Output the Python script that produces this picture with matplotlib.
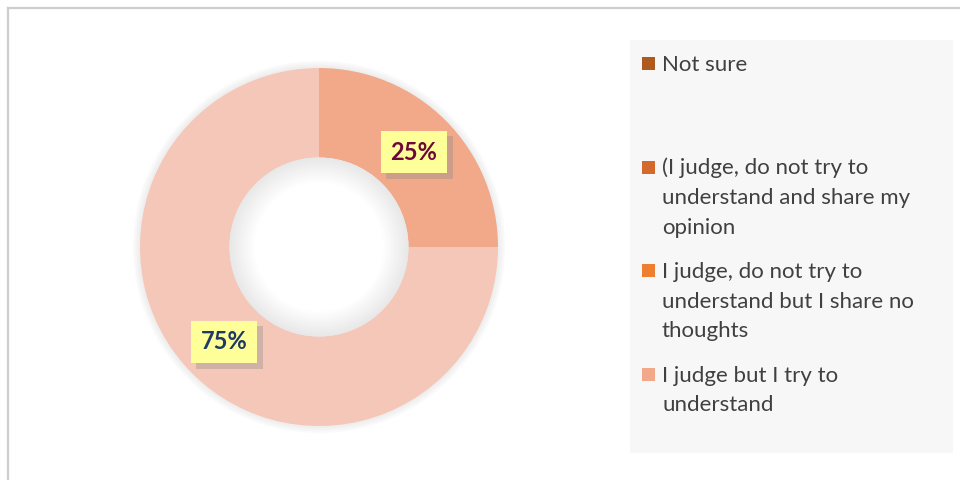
import numpy as np
import matplotlib.pyplot as plt
import matplotlib.patheffects as pe
from matplotlib.lines import Line2D
from matplotlib.patches import Rectangle, Circle

# data
labels = ["Not sure",
          "(I judge, do not try to\nunderstand and share my\nopinion",
          "I judge, do not try to\nunderstand but I share no\nthoughts",
          "I judge but I try to\nunderstand",
          ""]
values = [0, 0, 0, 25, 75]
colors = ["#B0591F", "#D3692A", "#EE7F31", "#F1A98A", "#F5C7B8"]
pct_colors = ["#6B0A3A", "#6B0A3A", "#6B0A3A", "#6B0A3A", "#1F3864"]

plt.rcParams['font.family'] = ['Lato', 'DejaVu Sans']

W, H = 960, 480
fig = plt.figure(figsize=(9.6, 4.8), dpi=100)
fig.patch.set_facecolor('white')

def fx(px):
    return px / W

def fy(py):
    return 1 - py / H

# outer chart border (only top/left visible)
fig.add_artist(Line2D([fx(8), fx(8)], [0, fy(8)], color='#CDCDCD', lw=1.6))
fig.add_artist(Line2D([fx(8), 1], [fy(8), fy(8)], color='#CDCDCD', lw=1.6))

# donut
cx, cy, R = 319, 247, 179
ax = fig.add_axes([fx(cx - R), fy(cy + R), 2 * R / W, 2 * R / H])

wedges, _ = ax.pie(values, colors=colors, startangle=90, counterclock=False, radius=1,
                   wedgeprops=dict(width=0.5, edgecolor='none'))
ax.set_aspect('auto')
ax.set_xlim(-1, 1)
ax.set_ylim(-1, 1)
ax.axis('off')

# soft glow around ring
for r in np.linspace(1.04, 1.0, 5):
    ax.add_patch(Circle((0, 0), r, color='#B0B0B0', alpha=0.05, lw=0, zorder=0, clip_on=False))

# inner shadow of the hole
n = 30
for i in range(n):
    t = i / (n - 1)
    r = 0.5 - 0.14 * t
    g = 0.91 + 0.09 * t
    ax.add_patch(Circle((0, 0), r, color=(g, g, g), lw=0, zorder=3))
ax.add_patch(Circle((0, 0), 0.36, color='white', lw=0, zorder=3))

total = sum(values)
for w, v, tc in zip(wedges, values, pct_colors):
    if v == 0:
        continue
    ang = np.deg2rad((w.theta1 + w.theta2) / 2)
    x, y = 0.75 * np.cos(ang), 0.75 * np.sin(ang)
    t = ax.text(x, y, f"{v / total * 100:.0f}%", ha='center', va='center',
                fontsize=17, fontweight='bold', color=tc, zorder=5,
                bbox=dict(boxstyle='square,pad=0.42', fc='#FFFF99', ec='none'))
    t.get_bbox_patch().set_path_effects([
        pe.SimplePatchShadow(offset=(4, -4), shadow_rgbFace='#888888', alpha=0.35),
        pe.Normal()])

# legend panel
fig.add_artist(Rectangle((fx(630), fy(453)), fx(953) - fx(630), fy(40) - fy(453),
                         transform=fig.transFigure, fc='#F7F7F7', ec='none'))
y0, step, lh = 71, 103.5, 29.5
for i, (lab, c) in enumerate(zip(labels, colors)):
    if not lab:
        continue
    yb = y0 + i * step
    fig.add_artist(Rectangle((fx(642), fy(yb - 1)), 13 / W, 13 / H,
                             transform=fig.transFigure, fc=c, ec='none'))
    for j, line in enumerate(lab.split("\n")):
        fig.text(fx(662), fy(yb + j * lh), line, ha='left', va='baseline',
                 fontsize=16, color='#404040')

fig.savefig('out.png', dpi=100)
